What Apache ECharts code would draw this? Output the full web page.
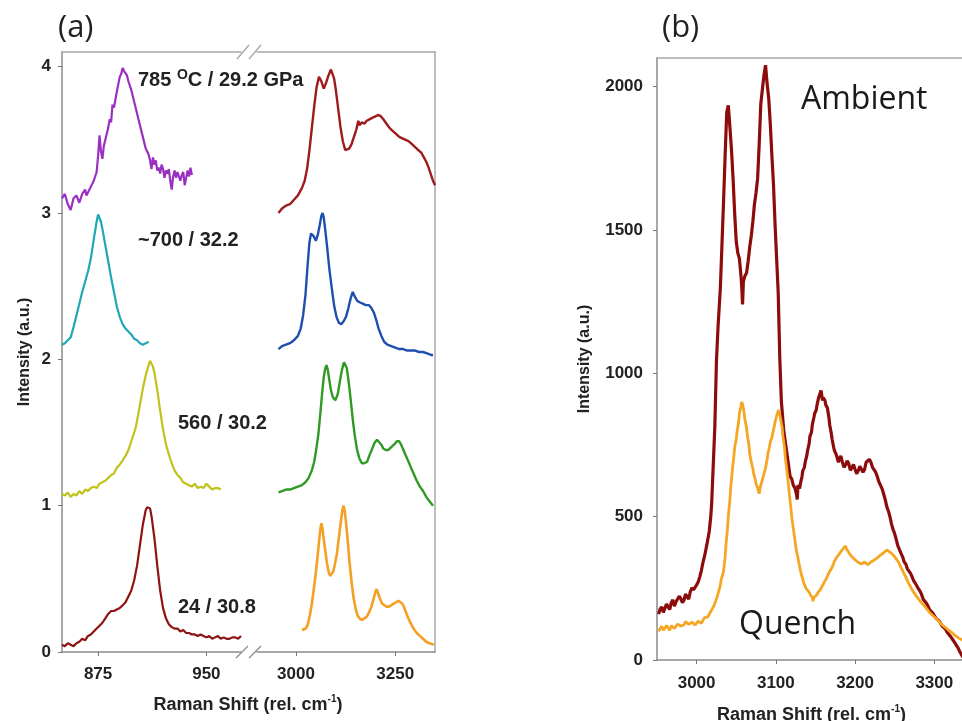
<!DOCTYPE html>
<html>
<head>
<meta charset="utf-8">
<script src="https://cdn.jsdelivr.net/npm/echarts@6/dist/echarts.min.js"></script>
<style>
html,body{margin:0;padding:0;background:#fff;}
#chart{width:962px;height:721px;}
</style>
</head>
<body>
<div id="chart"></div>
<script>
// ---- tick values ----
const yTicksA = [0, 1, 2, 3, 4];
const xTicksALow = [875, 950];
const xTicksAHigh = [3000, 3250];
const yTicksB = [0, 500, 1000, 1500, 2000];
const xTicksB = [3000, 3100, 3200, 3300];

// ---- panel (a): low-shift band, offset spectra [shift, intensity] ----
const low785 = [[850,3.10],[852,3.13],[854,3.06],[856,3.02],[858,3.10],[860,3.12],[862,3.07],[864,3.13],[866,3.16],[867,3.12],[868,3.11],[870,3.18],[872,3.22],[874,3.28],[875,3.39],[876,3.53],[877,3.42],[878,3.37],[879,3.46],[880,3.50],[882,3.58],[883,3.64],[884,3.62],[885,3.74],[886,3.72],[888,3.83],[890,3.93],[891,3.95],[892,3.99],[893,3.97],[894,3.96],[895,3.94],[896,3.90],[898,3.84],[900,3.76],[902,3.68],[904,3.60],[906,3.52],[908,3.44],[910,3.40],[911,3.36],[912,3.30],[913,3.38],[914,3.33],[915,3.36],[916,3.29],[917,3.31],[918,3.27],[919,3.33],[920,3.30],[921,3.24],[922,3.29],[923,3.27],[924,3.30],[925,3.22],[926,3.16],[927,3.25],[928,3.29],[929,3.24],[930,3.28],[931,3.27],[932,3.22],[933,3.26],[934,3.28],[935,3.19],[936,3.24],[937,3.29],[938,3.25],[939,3.31],[940,3.26]];
const low700 = [[850,2.10],[852,2.11],[854,2.13],[856,2.15],[858,2.22],[860,2.30],[862,2.38],[864,2.46],[866,2.53],[868,2.60],[870,2.69],[872,2.82],[873,2.88],[874,2.94],[875,2.99],[876,2.98],[877,2.94],[878,2.89],[880,2.78],[882,2.67],[884,2.56],[886,2.46],[888,2.36],[890,2.29],[892,2.24],[894,2.21],[896,2.19],[898,2.17],[900,2.14],[902,2.13],[904,2.11],[906,2.10],[908,2.11],[910,2.12]];
const low560 = [[850,1.08],[852,1.07],[854,1.09],[856,1.06],[858,1.08],[860,1.07],[862,1.10],[864,1.08],[866,1.11],[868,1.10],[870,1.12],[872,1.13],[874,1.12],[876,1.15],[878,1.16],[880,1.17],[882,1.19],[884,1.21],[886,1.22],[888,1.26],[890,1.28],[892,1.31],[894,1.34],[896,1.38],[898,1.44],[900,1.50],[901,1.53],[902,1.58],[904,1.69],[906,1.80],[908,1.89],[910,1.96],[911,1.99],[912,1.98],[913,1.95],[914,1.91],[916,1.79],[918,1.65],[920,1.52],[922,1.42],[924,1.35],[926,1.29],[928,1.24],[930,1.21],[932,1.19],[934,1.16],[936,1.15],[938,1.14],[940,1.13],[942,1.15],[944,1.12],[946,1.13],[948,1.12],[950,1.15],[952,1.13],[954,1.11],[956,1.12],[958,1.12],[960,1.11]];
const low24 = [[850,0.05],[852,0.04],[854,0.06],[856,0.05],[858,0.04],[860,0.06],[862,0.07],[864,0.09],[866,0.08],[868,0.11],[870,0.12],[872,0.14],[874,0.16],[876,0.18],[878,0.20],[880,0.23],[882,0.26],[884,0.28],[886,0.28],[888,0.29],[890,0.30],[892,0.32],[894,0.34],[896,0.38],[898,0.42],[900,0.49],[902,0.59],[904,0.73],[906,0.87],[908,0.97],[909,0.99],[910,1.00],[911,0.98],[912,0.93],[914,0.78],[916,0.59],[918,0.42],[920,0.30],[922,0.23],[924,0.19],[926,0.17],[928,0.16],[930,0.16],[932,0.14],[934,0.15],[936,0.13],[938,0.13],[940,0.12],[942,0.12],[944,0.11],[946,0.12],[948,0.11],[950,0.10],[952,0.11],[954,0.09],[956,0.10],[958,0.11],[960,0.09],[962,0.10],[964,0.09],[966,0.09],[968,0.10],[970,0.10],[972,0.09],[974,0.11]];

// ---- panel (a): C-H stretching band ----
const high785 = [[2956,3.00],[2965,3.03],[2975,3.05],[2985,3.06],[2995,3.09],[3005,3.12],[3015,3.17],[3022,3.22],[3028,3.30],[3034,3.43],[3040,3.58],[3046,3.73],[3052,3.86],[3058,3.93],[3064,3.90],[3070,3.85],[3076,3.89],[3082,3.94],[3088,3.98],[3091,3.99],[3096,3.92],[3100,3.85],[3106,3.72],[3112,3.59],[3118,3.49],[3124,3.43],[3128,3.42],[3134,3.44],[3140,3.47],[3146,3.52],[3152,3.57],[3157,3.63],[3160,3.60],[3166,3.62],[3172,3.61],[3178,3.63],[3185,3.64],[3192,3.65],[3200,3.66],[3208,3.67],[3214,3.66],[3220,3.64],[3228,3.61],[3236,3.58],[3244,3.56],[3252,3.54],[3260,3.52],[3268,3.51],[3276,3.50],[3284,3.49],[3292,3.47],[3300,3.45],[3308,3.43],[3316,3.41],[3322,3.38],[3328,3.35],[3334,3.31],[3340,3.26],[3345,3.22],[3350,3.19]];
const high700 = [[2956,2.07],[2965,2.09],[2975,2.10],[2985,2.11],[2995,2.13],[3005,2.16],[3012,2.21],[3018,2.30],[3024,2.44],[3029,2.63],[3034,2.80],[3038,2.86],[3041,2.87],[3045,2.84],[3050,2.81],[3055,2.85],[3060,2.92],[3064,2.98],[3067,3.00],[3070,2.97],[3074,2.88],[3078,2.78],[3084,2.62],[3090,2.49],[3096,2.37],[3102,2.29],[3108,2.25],[3114,2.24],[3120,2.26],[3126,2.29],[3132,2.35],[3138,2.42],[3143,2.46],[3148,2.43],[3154,2.40],[3160,2.39],[3168,2.38],[3176,2.37],[3184,2.37],[3190,2.35],[3196,2.32],[3202,2.27],[3208,2.21],[3215,2.16],[3222,2.12],[3230,2.10],[3240,2.09],[3250,2.08],[3260,2.07],[3270,2.07],[3280,2.06],[3290,2.06],[3300,2.06],[3310,2.05],[3320,2.05],[3330,2.04],[3340,2.03],[3345,2.03]];
const high560 = [[2956,1.09],[2965,1.10],[2975,1.11],[2985,1.11],[2995,1.12],[3005,1.13],[3015,1.14],[3024,1.16],[3032,1.19],[3040,1.24],[3046,1.30],[3052,1.40],[3057,1.50],[3062,1.65],[3066,1.77],[3070,1.88],[3074,1.94],[3077,1.96],[3080,1.93],[3084,1.86],[3088,1.79],[3093,1.74],[3099,1.72],[3105,1.76],[3110,1.84],[3116,1.93],[3121,1.98],[3124,1.99],[3128,1.94],[3133,1.84],[3138,1.72],[3143,1.59],[3148,1.48],[3154,1.38],[3160,1.32],[3166,1.29],[3172,1.29],[3179,1.30],[3186,1.35],[3192,1.39],[3198,1.43],[3204,1.45],[3208,1.45],[3214,1.42],[3220,1.39],[3226,1.38],[3232,1.38],[3240,1.40],[3248,1.42],[3254,1.44],[3260,1.44],[3266,1.41],[3272,1.37],[3280,1.32],[3288,1.27],[3296,1.22],[3304,1.17],[3312,1.13],[3320,1.10],[3328,1.06],[3336,1.03],[3345,1.00]];
const high24 = [[3015,0.15],[3020,0.15],[3025,0.16],[3030,0.19],[3035,0.25],[3040,0.33],[3045,0.43],[3050,0.54],[3054,0.64],[3058,0.75],[3061,0.83],[3064,0.88],[3067,0.84],[3070,0.77],[3074,0.69],[3078,0.61],[3082,0.55],[3086,0.52],[3090,0.52],[3094,0.55],[3098,0.60],[3103,0.67],[3108,0.78],[3113,0.89],[3117,0.97],[3120,1.00],[3123,0.96],[3127,0.86],[3131,0.74],[3135,0.61],[3140,0.48],[3145,0.37],[3150,0.30],[3155,0.25],[3160,0.23],[3166,0.22],[3172,0.23],[3178,0.24],[3184,0.27],[3190,0.31],[3195,0.36],[3200,0.41],[3203,0.43],[3207,0.40],[3212,0.36],[3217,0.33],[3222,0.32],[3228,0.31],[3234,0.31],[3240,0.32],[3246,0.33],[3252,0.34],[3258,0.35],[3263,0.355],[3268,0.33],[3273,0.30],[3280,0.25],[3288,0.20],[3296,0.16],[3304,0.13],[3312,0.11],[3320,0.09],[3328,0.07],[3336,0.06],[3347,0.05]];

// ---- panel (b): ambient vs quenched spectra ----
const ambient = [[2952,160],[2954,178],[2956,185],[2958,166],[2960,172],[2962,195],[2964,190],[2966,176],[2968,200],[2970,210],[2972,188],[2974,203],[2976,205],[2978,222],[2980,215],[2982,200],[2984,208],[2986,230],[2988,225],[2990,212],[2992,238],[2994,252],[2996,245],[2998,240],[3000,262],[3002,272],[3004,290],[3006,312],[3008,340],[3010,362],[3012,390],[3014,418],[3016,450],[3018,505],[3019,547],[3021,680],[3023,814],[3025,1040],[3027,1160],[3030,1300],[3032,1450],[3034,1600],[3036,1760],[3038,1910],[3040,1935],[3042,1860],[3044,1780],[3046,1680],[3048,1560],[3050,1460],[3052,1420],[3054,1400],[3056,1340],[3057,1300],[3058,1240],[3059,1320],[3061,1340],[3063,1350],[3065,1390],[3067,1440],[3069,1480],[3071,1530],[3073,1590],[3075,1630],[3077,1680],[3079,1800],[3081,1940],[3083,1990],[3085,2040],[3087,2075],[3089,2010],[3091,1960],[3093,1870],[3095,1760],[3097,1660],[3099,1520],[3101,1400],[3103,1280],[3105,1050],[3107,900],[3110,800],[3113,740],[3116,680],[3118,640],[3120,632],[3122,610],[3124,600],[3126,580],[3127,560],[3128,610],[3130,598],[3131,615],[3133,640],[3134,660],[3136,672],[3137,690],[3139,712],[3140,730],[3142,755],[3143,780],[3145,795],[3146,820],[3148,846],[3149,860],[3151,872],[3152,890],[3154,915],[3155,910],[3157,940],[3158,935],[3159,905],[3160,915],[3162,905],[3163,890],[3165,880],[3167,845],[3168,820],[3170,790],[3171,770],[3173,742],[3174,730],[3176,718],[3177,710],[3179,690],[3180,700],[3182,712],[3184,690],[3186,672],[3188,680],[3190,695],[3192,685],[3194,662],[3196,670],[3198,682],[3200,665],[3202,650],[3204,660],[3206,676],[3208,670],[3210,655],[3212,665],[3214,690],[3216,685],[3218,700],[3220,690],[3222,672],[3224,670],[3226,655],[3228,640],[3230,622],[3232,610],[3234,598],[3236,580],[3238,560],[3240,535],[3242,520],[3244,500],[3246,474],[3248,455],[3250,440],[3252,420],[3254,398],[3256,385],[3258,372],[3260,360],[3262,342],[3264,335],[3266,318],[3268,310],[3270,302],[3272,290],[3274,276],[3276,268],[3278,258],[3280,248],[3282,240],[3284,228],[3286,212],[3288,205],[3290,198],[3292,188],[3294,176],[3296,170],[3298,164],[3300,155],[3302,146],[3304,140],[3306,136],[3308,128],[3310,118],[3312,112],[3314,108],[3316,98],[3318,92],[3320,84],[3322,78],[3324,68],[3326,60],[3328,50],[3330,42],[3332,30],[3334,20],[3336,10]];
const quench = [[2952,100],[2954,110],[2956,118],[2958,104],[2960,108],[2962,120],[2964,112],[2966,104],[2968,120],[2970,126],[2972,110],[2974,118],[2976,125],[2978,130],[2980,118],[2982,112],[2984,122],[2986,134],[2988,130],[2990,124],[2992,120],[2994,132],[2996,128],[2998,122],[3000,126],[3002,136],[3004,132],[3006,128],[3008,138],[3010,148],[3012,145],[3014,150],[3016,160],[3018,170],[3020,180],[3022,190],[3024,205],[3026,222],[3028,240],[3030,262],[3031,280],[3033,300],[3034,310],[3036,360],[3037,400],[3039,460],[3040,500],[3042,560],[3043,600],[3045,660],[3047,710],[3048,740],[3050,770],[3051,795],[3053,830],[3054,860],[3056,885],[3057,900],[3058,892],[3059,880],[3061,840],[3063,810],[3064,785],[3066,750],[3067,720],[3069,690],[3071,668],[3072,650],[3074,630],[3075,615],[3077,600],[3078,590],[3079,580],[3080,598],[3081,610],[3083,628],[3084,640],[3086,660],[3087,670],[3089,700],[3090,720],[3092,745],[3093,760],[3095,775],[3096,790],[3098,815],[3099,830],[3101,852],[3102,860],[3103,872],[3104,870],[3105,855],[3106,840],[3108,810],[3109,780],[3111,740],[3112,705],[3114,660],[3116,610],[3117,580],[3119,530],[3120,500],[3122,460],[3123,440],[3125,400],[3126,380],[3128,355],[3129,340],[3131,312],[3132,300],[3134,282],[3135,270],[3137,258],[3138,250],[3140,244],[3141,240],[3143,232],[3144,225],[3146,218],[3147,205],[3148,218],[3150,220],[3152,228],[3153,235],[3155,240],[3156,245],[3158,255],[3160,265],[3162,276],[3164,285],[3166,298],[3168,310],[3170,318],[3172,330],[3174,345],[3176,355],[3178,362],[3180,370],[3182,378],[3184,385],[3186,390],[3188,398],[3189,388],[3191,380],[3193,370],[3194,365],[3196,360],[3198,355],[3200,350],[3202,345],[3204,340],[3206,338],[3208,335],[3210,332],[3212,342],[3214,340],[3216,332],[3218,335],[3220,342],[3222,345],[3224,348],[3226,350],[3228,356],[3230,360],[3232,366],[3234,370],[3236,374],[3238,378],[3240,384],[3242,390],[3243,378],[3245,380],[3246,372],[3248,370],[3250,360],[3252,355],[3254,345],[3256,335],[3258,322],[3260,312],[3262,300],[3264,290],[3266,276],[3268,265],[3270,255],[3272,245],[3274,236],[3276,228],[3278,220],[3280,213],[3282,206],[3284,200],[3286,194],[3288,188],[3290,180],[3292,173],[3294,166],[3296,160],[3298,155],[3300,150],[3302,145],[3304,140],[3306,134],[3308,128],[3310,122],[3312,118],[3314,114],[3316,110],[3318,104],[3320,100],[3322,96],[3324,92],[3326,86],[3328,82],[3330,78],[3332,75],[3334,72],[3336,68]];

const chart = echarts.init(document.getElementById('chart'), null, {renderer: 'canvas'});

const tickFont = {fontFamily: 'Liberation Sans, Arial, sans-serif', fontWeight: 'bold', fontSize: 17, color: '#222'};
const frameColor = '#8c8c8c';
const lightFrame = '#a8a8a8';
const plain = v => String(v);

function bottomAxis(gridIndex, min, max, ticks, margin) {
  return {
    type: 'value', gridIndex, position: 'bottom', min, max,
    splitLine: {show: false},
    axisLine: {show: true, onZero: false, lineStyle: {color: frameColor, width: 1.5}},
    axisTick: {show: true, customValues: ticks, length: 4, lineStyle: {color: '#777'}},
    axisLabel: Object.assign({customValues: ticks, margin, formatter: plain}, tickFont)
  };
}
function frameAxisX(gridIndex, min, max) {
  return {
    type: 'value', gridIndex, position: 'top', min, max,
    splitLine: {show: false}, axisTick: {show: false}, axisLabel: {show: false},
    axisLine: {show: true, onZero: false, lineStyle: {color: lightFrame, width: 1.5}}
  };
}

const supRich = {
  sup: {fontSize: 10, fontWeight: 'bold', fontFamily: 'Liberation Sans, Arial, sans-serif', verticalAlign: 'top', lineHeight: 22, color: '#222'}
};

function line(data, xi, yi, color, width) {
  return {
    type: 'line', data, xAxisIndex: xi, yAxisIndex: yi,
    showSymbol: false, symbol: 'none', animation: false,
    lineStyle: {color, width: width || 2}, z: 3
  };
}

const option = {
  animation: false,
  backgroundColor: '#ffffff',
  grid: [
    {left: 62, top: 52, width: 179, height: 600, outerBoundsMode: 'none', containLabel: false},
    {left: 257, top: 52, width: 178, height: 600, outerBoundsMode: 'none', containLabel: false},
    {left: 657, top: 58, width: 309, height: 602, outerBoundsMode: 'none', containLabel: false}
  ],
  xAxis: [
    bottomAxis(0, 850, 974, xTicksALow, 14),
    bottomAxis(1, 2902, 3350, xTicksAHigh, 14),
    Object.assign(bottomAxis(2, 2950, 3340, xTicksB, 15), {
      name: '{m|Raman Shift (rel. cm}{sup|-1}{m|)}',
      nameLocation: 'middle', nameGap: 44,
      nameTextStyle: {rich: Object.assign({m: {fontSize: 18, fontWeight: 'bold', fontFamily: 'Liberation Sans, Arial, sans-serif', color: '#222', lineHeight: 22}}, supRich)}
    }),
    frameAxisX(0, 850, 974),
    frameAxisX(1, 2902, 3350),
    frameAxisX(2, 2950, 3340)
  ],
  yAxis: [
    {
      type: 'value', gridIndex: 0, min: 0, max: 4.1, position: 'left',
      splitLine: {show: false},
      axisLine: {show: true, onZero: false, lineStyle: {color: frameColor, width: 1.5}},
      axisTick: {show: true, customValues: yTicksA, length: 4, lineStyle: {color: '#777'}},
      axisLabel: Object.assign({customValues: yTicksA, margin: 11, formatter: plain}, tickFont),
      name: 'Intensity (a.u.)', nameLocation: 'middle', nameGap: 29,
      nameTextStyle: {fontSize: 16, fontWeight: 'bold', fontFamily: 'Liberation Sans, Arial, sans-serif', color: '#222'}
    },
    {
      type: 'value', gridIndex: 1, min: 0, max: 4.1, position: 'right',
      splitLine: {show: false}, axisTick: {show: false}, axisLabel: {show: false},
      axisLine: {show: true, onZero: false, lineStyle: {color: lightFrame, width: 1.5}}
    },
    {
      type: 'value', gridIndex: 2, min: 0, max: 2100, position: 'left',
      splitLine: {show: false},
      axisLine: {show: true, onZero: false, lineStyle: {color: frameColor, width: 1.5}},
      axisTick: {show: true, customValues: yTicksB, length: 4, lineStyle: {color: '#777'}},
      axisLabel: Object.assign({customValues: yTicksB, margin: 14, formatter: plain}, tickFont),
      name: 'Intensity (a.u.)', nameLocation: 'middle', nameGap: 64,
      nameTextStyle: {fontSize: 16, fontWeight: 'bold', fontFamily: 'Liberation Sans, Arial, sans-serif', color: '#222'}
    }
  ],
  series: [
    line(low785, 0, 0, '#9b2fc2', 2.2),
    line(low700, 0, 0, '#1fa8b6', 2.2),
    line(low560, 0, 0, '#c2c21c', 2.2),
    line(low24, 0, 0, '#8e1414', 2.2),
    line(high785, 1, 1, '#9e1b1b', 2.4),
    line(high700, 1, 1, '#1f4fae', 2.4),
    line(high560, 1, 1, '#2f9a24', 2.4),
    line(high24, 1, 1, '#f3a024', 2.6),
    line(ambient, 2, 2, '#8c0c0c', 3.2),
    line(quench, 2, 2, '#f5a623', 2.8)
  ],
  graphic: [
    // panel tags
    {type: 'text', left: 58, top: 13, style: {text: '(a)', font: '31px "Open Sans", sans-serif', fill: '#222'}},
    {type: 'text', left: 662, top: 13, style: {text: '(b)', font: '31px "Open Sans", sans-serif', fill: '#222'}},
    // axis-break marks
    {type: 'line', shape: {x1: 237, y1: 59, x2: 249, y2: 45}, style: {stroke: lightFrame, lineWidth: 1.3}},
    {type: 'line', shape: {x1: 249, y1: 59, x2: 261, y2: 45}, style: {stroke: lightFrame, lineWidth: 1.3}},
    {type: 'line', shape: {x1: 236, y1: 658, x2: 248, y2: 646}, style: {stroke: frameColor, lineWidth: 1.3}},
    {type: 'line', shape: {x1: 249, y1: 658, x2: 261, y2: 646}, style: {stroke: frameColor, lineWidth: 1.3}},
    // condition labels
    {type: 'text', x: 138, y: 80, style: {
      text: '{b|785 }{o|O}{b|C / 29.2 GPa}', verticalAlign: 'middle',
      rich: {b: {font: 'bold 20px "Liberation Sans", Arial, sans-serif', fill: '#222', lineHeight: 24},
             o: {font: 'bold 14px "Liberation Sans", Arial, sans-serif', fill: '#222', verticalAlign: 'top', lineHeight: 24}}}},
    {type: 'text', x: 138, y: 240, style: {text: '~700 / 32.2', verticalAlign: 'middle', font: 'bold 20px "Liberation Sans", Arial, sans-serif', fill: '#222'}},
    {type: 'text', x: 178, y: 423, style: {text: '560 / 30.2', verticalAlign: 'middle', font: 'bold 20px "Liberation Sans", Arial, sans-serif', fill: '#222'}},
    {type: 'text', x: 178, y: 607, style: {text: '24 / 30.8', verticalAlign: 'middle', font: 'bold 20px "Liberation Sans", Arial, sans-serif', fill: '#222'}},
    // panel (a) x title spanning both segments
    {type: 'text', x: 248, y: 705, style: {
      text: '{m|Raman Shift (rel. cm}{sup|-1}{m|)}', align: 'center', verticalAlign: 'middle',
      rich: {m: {font: 'bold 18px "Liberation Sans", Arial, sans-serif', fill: '#222', lineHeight: 22},
             sup: {font: 'bold 10px "Liberation Sans", Arial, sans-serif', fill: '#222', verticalAlign: 'top', lineHeight: 22}}}},
    // panel (b) labels
    {type: 'text', x: 801, y: 100, style: {text: 'Ambient', verticalAlign: 'middle', font: '32px "Open Sans", sans-serif', fill: '#1a1a1a'}},
    {type: 'text', x: 739, y: 625, style: {text: 'Quench', verticalAlign: 'middle', font: '32px "Open Sans", sans-serif', fill: '#1a1a1a'}}
  ]
};
chart.setOption(option);
</script>
</body>
</html>
